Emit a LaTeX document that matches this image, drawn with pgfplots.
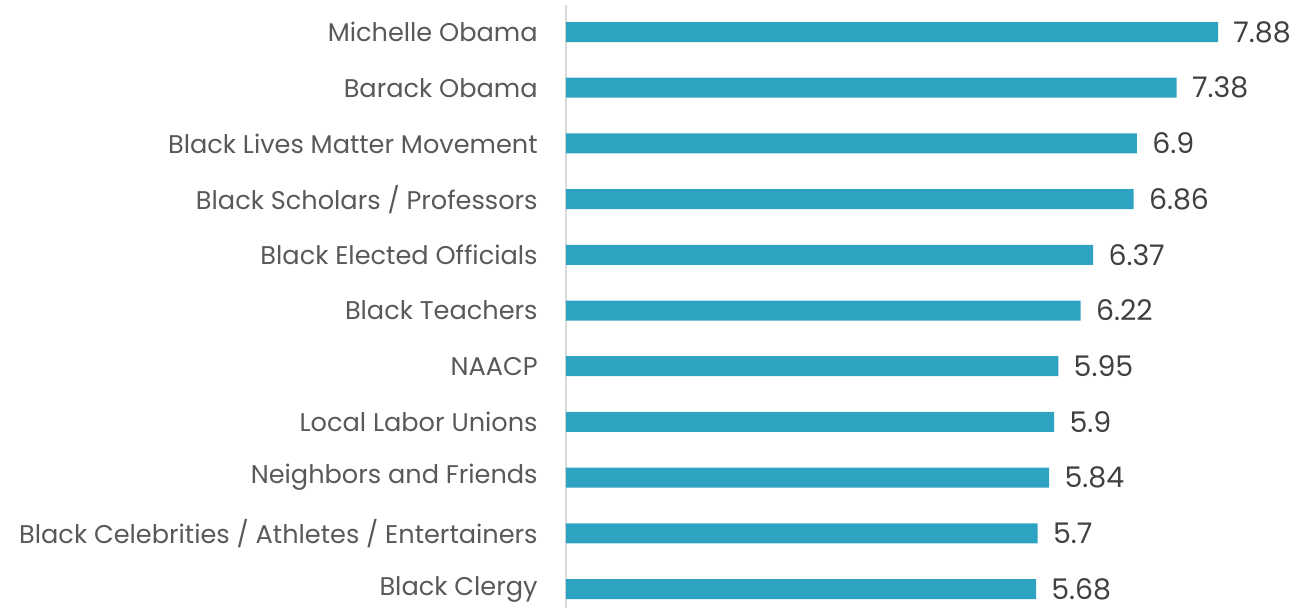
\documentclass[border=0pt]{standalone}
\usepackage{pgfplots}
\pgfplotsset{compat=1.18}
\usepackage{fontspec}
\setmainfont{Poppins}
\definecolor{barc}{HTML}{2EA3C1}
\definecolor{labc}{HTML}{595959}
\definecolor{valc}{HTML}{404040}
\definecolor{axc}{HTML}{D9D9D9}
\begin{document}
\begin{tikzpicture}
\begin{axis}[
  scale only axis,
  width=370.5pt, height=301.5pt,
  xbar, bar width=10pt,
  xmin=0, xmax=8.955,
  ymin=-0.485, ymax=10.34,
  y dir=reverse,
  axis x line=none,
  axis y line*=left,
  axis line style={draw=axc, line width=1pt, -},
  ytick={0,...,10},
  yticklabels={Michelle Obama, Barack Obama, Black Lives Matter Movement, Black Scholars / Professors, Black Elected Officials, Black Teachers, NAACP, Local Labor Unions, Neighbors and Friends, Black Celebrities / Athletes / Entertainers, Black Clergy},
  major tick length=0pt,
  y tick label style={anchor=east, inner sep=0pt, xshift=-14pt, font=\fontsize{12.8}{15}\selectfont, text=labc},
  nodes near coords,
  nodes near coords style={anchor=west, inner sep=0pt, xshift=7.5pt, font=\fontsize{14.2}{16}\selectfont, text=valc},
  /pgf/number format/assume math mode=true,
  clip=false,
]
\addplot[fill=barc, draw=none] coordinates {
(7.88,0) (7.38,1) (6.9,2) (6.86,3) (6.37,4) (6.22,5) (5.95,6) (5.9,7) (5.84,8) (5.7,9) (5.68,10)
};
\path (rel axis cs:1,0) -- (rel axis cs:1,1);
\path (rel axis cs:0,0) ++(-283pt,0pt);
\path (rel axis cs:0,0) ++(0pt,2.5pt);
\path (rel axis cs:0,1) ++(0pt,2.5pt);
\end{axis}
\end{tikzpicture}
\end{document}
